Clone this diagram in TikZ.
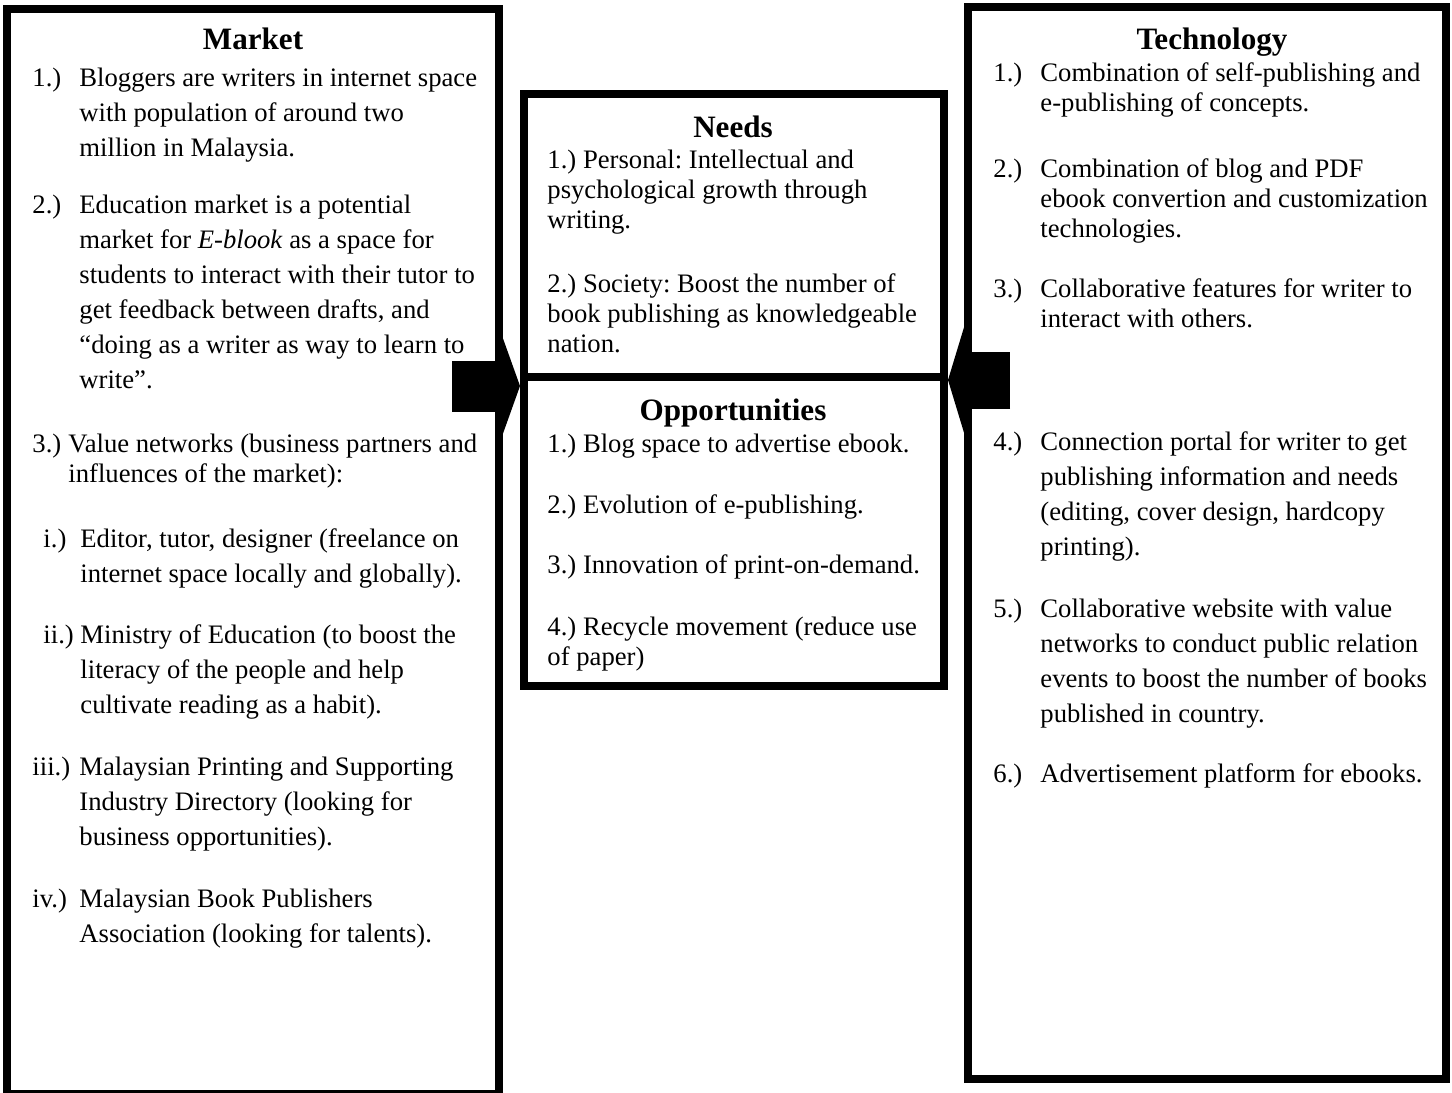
\documentclass[tikz,border=0pt]{standalone}
\usepackage{fontspec}
\setmainfont{Liberation Serif}
\usepackage{amsmath}
\usepackage{tikz}
\usetikzlibrary{fit,positioning,arrows.meta}
\frenchspacing

\begin{document}
\begin{tikzpicture}[x=0.45pt,y=-0.45pt]
            \tikzstyle{panel}=[rectangle, draw=black, line width=3.6pt, inner sep=0pt]
            \tikzstyle{title}=[anchor=base, inner sep=0pt, font=\fontsize{14}{16}\selectfont\bfseries]
            \tikzstyle{item}=[anchor=base west, inner sep=0pt, font=\fontsize{12}{15.75}\selectfont]
            \tikzstyle{tight}=[font=\fontsize{12}{13.5}\selectfont]
            \tikzstyle{blockarrow}=[draw=black, line width=22.95pt, -{Triangle[length=7.65pt, width=42.75pt, line width=0pt 0 0]}]
            \tikzstyle{bigarrow}=[draw=black, line width=25.65pt, -{Triangle[length=7.65pt, width=50.4pt, line width=0pt 0 0]}]
            \useasboundingbox (0,0) rectangle (1452,1092);
            % the four boxes
            \node[panel, fit={(7,9) (499,1094)}] (market) {};
            \node[panel, fit={(968,7) (1446,1079)}] (tech) {};
            \node[panel, fit={(524,94) (944,377)}] (needs) {};
            \node[panel, fit={(524,377) (944,686)}] (opps) {};
            % titles
            {\node[title] (markettitle) at (253,50){Market};
            \node[title] (techtitle) at (1212,50){Technology};
            \node[title] (needstitle) at (733,137){Needs};
            \node[title] (oppstitle) at (733,420){Opportunities};}
            % market
            \node[item] (m1) at (32,86){\begin{tabular}[t]{@{}p{21.15pt}@{}l@{}}1.) & Bloggers are writers in internet space\\ & with population of around two\\ & million in Malaysia.\end{tabular}};
            \node[item] (m2) at (32,213){\begin{tabular}[t]{@{}p{21.15pt}@{}l@{}}2.) & Education market is a potential\\ & market for \textit{E-blook} as a space for\\ & students to interact with their tutor to\\ & get feedback between drafts, and\\ & “doing as a writer as way to learn to\\ & write”.\end{tabular}};
            \node[item, tight] (m3) at (32,452){\begin{tabular}[t]{@{}p{16.2pt}@{}l@{}}3.) & Value networks (business partners and\\ & influences of the market):\end{tabular}};
            \node[item] (mi) at (43,547){\begin{tabular}[t]{@{}p{16.65pt}@{}l@{}}i.) & Editor, tutor, designer (freelance on\\ & internet space locally and globally).\end{tabular}};
            \node[item] (mii) at (43,643){\begin{tabular}[t]{@{}p{16.65pt}@{}l@{}}ii.) & Ministry of Education (to boost the\\ & literacy of the people and help\\ & cultivate reading as a habit).\end{tabular}};
            \node[item] (miii) at (32,775){\begin{tabular}[t]{@{}p{21.15pt}@{}l@{}}iii.) & Malaysian Printing and Supporting\\ & Industry Directory (looking for\\ & business opportunities).\end{tabular}};
            \node[item] (miv) at (32,907){\begin{tabular}[t]{@{}p{21.15pt}@{}l@{}}iv.) & Malaysian Book Publishers\\ & Association (looking for talents).\end{tabular}};
            % needs and opportunities
            \node[item, tight] (n1) at (547,168){\begin{tabular}[t]{@{}l@{}}1.) Personal: Intellectual and\\ psychological growth through\\ writing.\end{tabular}};
            \node[item, tight] (n2) at (547,292){\begin{tabular}[t]{@{}l@{}}2.) Society: Boost the number of\\ book publishing as knowledgeable\\ nation.\end{tabular}};
            \node[item, tight] (o1) at (547,452){1.) Blog space to advertise ebook.};
            \node[item, tight] (o2) at (547,513){2.) Evolution of e-publishing.};
            \node[item, tight] (o3) at (547,573){3.) Innovation of print-on-demand.};
            \node[item, tight] (o4) at (547,635){\begin{tabular}[t]{@{}l@{}}4.) Recycle movement (reduce use\\ of paper)\end{tabular}};
            % technology
            \node[item, tight] (t1) at (993,82){\begin{tabular}[t]{@{}p{21.15pt}@{}l@{}}1.) & Combination of self-publishing and\\ & e-publishing of concepts.\end{tabular}};
            \node[item, tight] (t2) at (993,177){\begin{tabular}[t]{@{}p{21.15pt}@{}l@{}}2.) & Combination of blog and PDF\\ & ebook convertion and customization\\ & technologies.\end{tabular}};
            \node[item, tight] (t3) at (993,297){\begin{tabular}[t]{@{}p{21.15pt}@{}l@{}}3.) & Collaborative features for writer to\\ & interact with others.\end{tabular}};
            \node[item] (t4) at (993,450){\begin{tabular}[t]{@{}p{21.15pt}@{}l@{}}4.) & Connection portal for writer to get\\ & publishing information and needs\\ & (editing, cover design, hardcopy\\ & printing).\end{tabular}};
            \node[item] (t5) at (993,617){\begin{tabular}[t]{@{}p{21.15pt}@{}l@{}}5.) & Collaborative website with value\\ & networks to conduct public relation\\ & events to boost the number of books\\ & published in country.\end{tabular}};
            \node[item] (t6) at (993,782){\begin{tabular}[t]{@{}p{21.15pt}@{}l@{}}6.) & Advertisement platform for ebooks.\end{tabular}};
            % block arrows into the middle
            \coordinate (ltail) at (452,386);
            \coordinate (rtail) at (1010,380);
            \path (ltail) edge [blockarrow] (needs.west |- ltail);
            \path (rtail) edge [bigarrow] (needs.east |- rtail);
        \end{tikzpicture}
\end{document}
